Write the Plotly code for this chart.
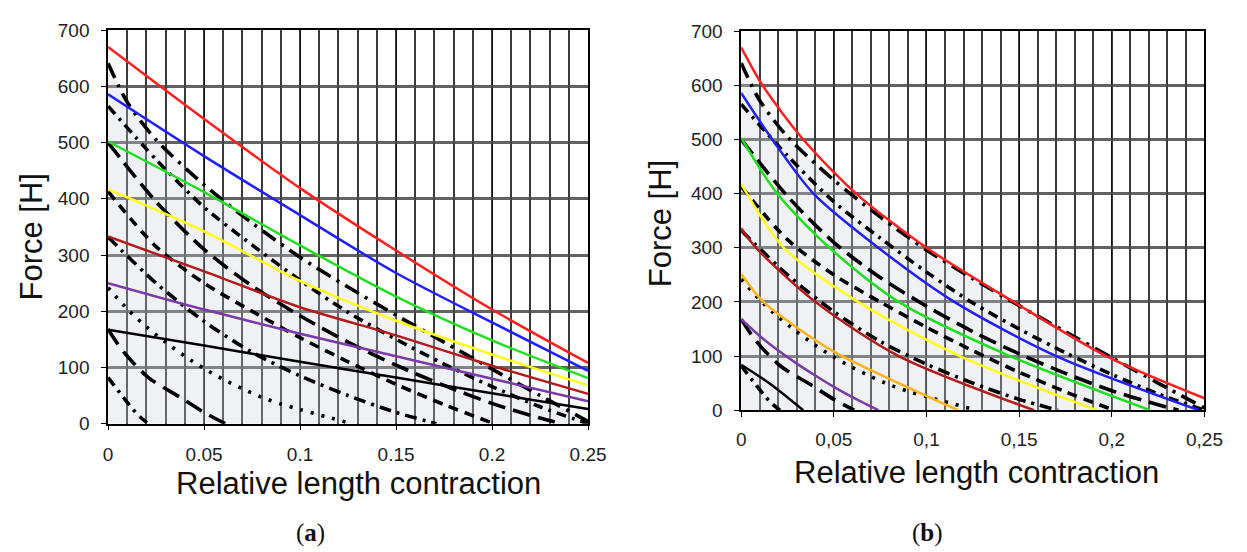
import plotly.graph_objects as go

W, H = 1247, 552

# ---- tick labels ----
x_ticks = [0, 0.05, 0.1, 0.15, 0.2, 0.25]
x_labels_a = ["0", "0.05", "0.1", "0.15", "0.2", "0.25"]
x_labels_b = ["0", "0,05", "0,1", "0,15", "0,2", "0,25"]
y_ticks = [0, 100, 200, 300, 400, 500, 600, 700]

# ---- reference (black, patterned) curves, shared by both panels ----
k1_x = [0, 0.01, 0.025, 0.05, 0.075, 0.1, 0.125, 0.15, 0.175, 0.2, 0.225, 0.25]
k1_f = [641, 572, 505, 425, 357, 296, 243, 193, 145, 97, 50, 4]
k2_x = [0, 0.025, 0.05, 0.075, 0.1, 0.125, 0.15, 0.175, 0.2, 0.225, 0.25]
k2_f = [565, 470, 385, 318, 255, 198, 150, 106, 66, 30, 0]
k3_x = [0, 0.025, 0.05, 0.075, 0.1, 0.125, 0.15, 0.175, 0.2, 0.225, 0.236]
k3_f = [500, 395, 310, 245, 192, 145, 104, 68, 36, 10, 0]
k4_x = [0, 0.025, 0.05, 0.075, 0.1, 0.125, 0.15, 0.175, 0.201]
k4_f = [413, 315, 250, 200, 153, 110, 70, 34, 0]
k5_x = [0, 0.025, 0.05, 0.075, 0.1, 0.125, 0.15, 0.171]
k5_f = [332, 250, 182, 127, 85, 50, 20, 0]
k6_x = [0, 0.01, 0.02, 0.03, 0.04, 0.05, 0.06, 0.07, 0.08, 0.09, 0.1, 0.115, 0.127]
k6_f = [242, 204, 172, 145, 120, 98, 79, 62, 47, 35, 25, 11, 0]
k7_x = [0, 0.008, 0.021, 0.038, 0.05, 0.061]
k7_f = [168, 128, 82, 46, 20, 0]
k8_x = [0, 0.0077, 0.0128, 0.017, 0.021]
k8_f = [82, 48, 26, 11, 0]

# ---- panel (a): linear-type model curves ----
xa = [0, 0.05, 0.1, 0.15, 0.2, 0.25]
red_a = [670, 542, 419, 308, 203, 108]
blue_a = [586, 476, 371, 268, 180, 94]
green_a = [502, 412, 317, 226, 148, 81]
yellow_a = [417, 342, 254, 183, 123, 68]
darkred_a = [333, 271, 207, 157, 103, 53]
purple_a = [250, 203, 160, 120, 80, 40]
black_a = [167, 139, 110, 82, 54, 26]

# ---- panel (b): nonlinear model curves ----
red_bx = [0, 0.0115, 0.0335, 0.062, 0.1, 0.147, 0.197, 0.25]
red_b = [670, 600, 500, 400, 300, 200, 100, 22]
blue_bx = [0, 0.0168, 0.039, 0.074, 0.115, 0.17, 0.247]
blue_b = [586, 500, 400, 300, 200, 100, 0]
green_bx = [0, 0.0194, 0.0476, 0.085, 0.145, 0.2206]
green_b = [503, 400, 300, 200, 100, 0]
yellow_bx = [0, 0.023, 0.063, 0.118, 0.192]
yellow_b = [418, 300, 200, 100, 0]
darkred_bx = [0, 0.008, 0.04, 0.085, 0.158]
darkred_b = [336, 300, 200, 100, 0]
orange_bx = [0, 0.012, 0.05, 0.085, 0.117]
orange_b = [252, 200, 108, 50, 0]
purple_bx = [0, 0.01, 0.02, 0.03, 0.04, 0.05, 0.06, 0.074]
purple_b = [168, 137, 110, 86, 64, 43, 24, 0]
black_bx = [0, 0.0159, 0.0335]
black_b = [84, 48, 0]

# ---- styles ----
RED, BLUE, GREEN, YELLOW = "#ff1f1f", "#1f1fff", "#1ee01e", "#ffff1a"
DARKRED, ORANGE, PURPLE, BLACK = "#b41a1a", "#ffb31a", "#7a3aa8", "#000000"

ref_curves = [
    (k1_x, k1_f, "16px,7px,3px,7px"),
    (k2_x, k2_f, "10px,6px,3px,6px"),
    (k3_x, k3_f, "18px,8px"),
    (k4_x, k4_f, "10px,7px"),
    (k5_x, k5_f, "12px,6px,3px,6px"),
    (k6_x, k6_f, "3px,8px"),
    (k7_x, k7_f, "18px,9px"),
    (k8_x, k8_f, "10px,6px,3px,6px"),
]

model_a = [
    (xa, red_a, RED), (xa, blue_a, BLUE), (xa, green_a, GREEN),
    (xa, yellow_a, YELLOW), (xa, darkred_a, DARKRED),
    (xa, purple_a, PURPLE), (xa, black_a, BLACK),
]
model_b = [
    (red_bx, red_b, RED), (blue_bx, blue_b, BLUE), (green_bx, green_b, GREEN),
    (yellow_bx, yellow_b, YELLOW), (darkred_bx, darkred_b, DARKRED),
    (orange_bx, orange_b, ORANGE), (purple_bx, purple_b, PURPLE),
    (black_bx, black_b, BLACK),
]

fig = go.Figure()

for xr, yr in (("x", "y"), ("x2", "y2")):
    # light shaded band under the outermost reference curve
    fig.add_trace(go.Scatter(
        x=k1_x, y=k1_f, xaxis=xr, yaxis=yr, mode="lines",
        line=dict(width=0, shape="spline", smoothing=0.8),
        fill="tozeroy", fillcolor="rgba(205,210,222,0.30)",
        hoverinfo="skip", showlegend=False))
    for cx, cf, dash in ref_curves:
        fig.add_trace(go.Scatter(
            x=cx, y=cf, xaxis=xr, yaxis=yr, mode="lines",
            line=dict(color="black", width=3.6, dash=dash,
                      shape="spline", smoothing=0.8),
            showlegend=False))

for cx, cf, col in model_a:
    fig.add_trace(go.Scatter(
        x=cx, y=cf, xaxis="x", yaxis="y", mode="lines",
        line=dict(color=col, width=2.5, shape="spline", smoothing=0.8),
        showlegend=False))
for cx, cf, col in model_b:
    fig.add_trace(go.Scatter(
        x=cx, y=cf, xaxis="x2", yaxis="y2", mode="lines",
        line=dict(color=col, width=2.5, shape="spline", smoothing=0.8),
        showlegend=False))

FONT = "Liberation Sans, Arial, sans-serif"
tick_font = dict(family=FONT, size=19, color="#222")


def xaxis_cfg(domain, labels, anchor, standoff):
    return dict(
        domain=domain, anchor=anchor, range=[0, 0.25],
        tickvals=x_ticks, ticktext=labels, tickfont=tick_font,
        ticks="outside", ticklen=5, tickcolor="black",
        ticklabelstandoff=standoff,
        showline=True, linecolor="black", linewidth=1.5, mirror=True,
        showgrid=True, gridcolor="#111", gridwidth=1.3,
        minor=dict(dtick=0.01, tick0=0, showgrid=True,
                   gridcolor="#3a3a3a", gridwidth=2.2),
        zeroline=False, fixedrange=True)


def yaxis_cfg(domain, anchor):
    return dict(
        domain=domain, anchor=anchor, range=[0, 700],
        tickvals=y_ticks, tickfont=tick_font,
        ticks="outside", ticklen=5, tickcolor="black",
        ticklabelstandoff=8,
        showline=True, linecolor="black", linewidth=1.5, mirror=True,
        showgrid=True, gridcolor="rgba(70,70,70,0.85)", gridwidth=3.2,
        zeroline=False, fixedrange=True)


fig.update_layout(
    width=W, height=H,
    margin=dict(l=0, r=0, t=0, b=0),
    paper_bgcolor="white", plot_bgcolor="white",
    xaxis=xaxis_cfg([105 / W, 594 / W], x_labels_a, "y", 8),
    yaxis=yaxis_cfg([1 - 430 / H, 1 - 21 / H], "x"),
    xaxis2=xaxis_cfg([750 / W, 1222 / W], x_labels_b, "y2", 6),
    yaxis2=yaxis_cfg([1 - 416 / H, 1 - 22 / H], "x2"),
)

title_font = dict(family=FONT, size=31, color="#111")
cap_font = dict(family="Liberation Serif, Times New Roman, serif",
                size=25, color="#111")
annotations = [
    dict(text="Force [H]", x=27 / W, y=1 - 236 / H, textangle=-90,
         font=title_font),
    dict(text="Relative length contraction", x=360 / W, y=1 - 492 / H,
         font=title_font),
    dict(text="Force [H]", x=668 / W, y=1 - 222 / H, textangle=-90,
         font=title_font),
    dict(text="Relative length contraction", x=990 / W, y=1 - 481 / H,
         font=title_font),
    dict(text="(<b>a</b>)", x=311 / W, y=1 - 544 / H, font=cap_font),
    dict(text="(<b>b</b>)", x=940 / W, y=1 - 544 / H, font=cap_font),
]
for a in annotations:
    a.update(xref="paper", yref="paper", showarrow=False,
             xanchor="center", yanchor="middle")
fig.update_layout(annotations=annotations)

fig.write_html("out.html", config={"displayModeBar": False})
